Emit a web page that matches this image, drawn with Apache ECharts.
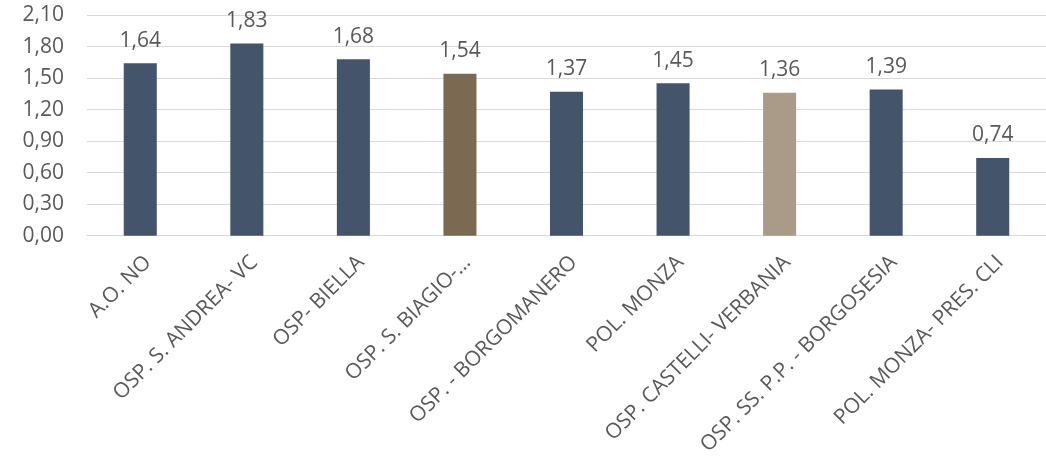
<!DOCTYPE html>
<html><head><meta charset="utf-8">
<script src="https://cdn.jsdelivr.net/npm/echarts@6/dist/echarts.min.js"></script>
<style>html,body{margin:0;padding:0;background:#fff}#c{width:1046px;height:458px}</style>
</head><body><div id="c"></div>
<script>
const categories = ["A.O. NO","OSP. S. ANDREA- VC","OSP- BIELLA","OSP. S. BIAGIO-…","OSP. - BORGOMANERO","POL. MONZA","OSP. CASTELLI- VERBANIA","OSP. SS. P.P. - BORGOSESIA","POL. MONZA- PRES. CLI"];
const values = [1.64,1.83,1.68,1.54,1.37,1.45,1.36,1.39,0.74];
const barColors = ["#44546A","#44546A","#44546A","#7A6A52","#44546A","#44546A","#A99B87","#44546A","#44546A"];
const fmt = v => v.toFixed(2).replace('.', ',');
const chart = echarts.init(document.getElementById('c'));
chart.setOption({
  animation:false,
  textStyle:{fontFamily:'Open Sans'},
  grid:{left:87,right:0,top:15,bottom:221,containLabel:false},
  xAxis:{type:'category',data:categories,
    axisLine:{lineStyle:{color:'#D9D9D9',width:1}},axisTick:{show:false},
    axisLabel:{rotate:45,color:'#595959',fontSize:21,interval:0,margin:16,verticalAlign:'top',fontFamily:'Open Sans'}},
  yAxis:{type:'value',min:0,max:2.1,interval:0.3,
    axisLabel:{formatter:fmt,color:'#595959',fontSize:21,margin:23,fontFamily:'Open Sans'},
    splitLine:{lineStyle:{color:'#D9D9D9',width:1}},axisLine:{show:false},axisTick:{show:false}},
  series:[{type:'bar',barWidth:'31%',
    data:values.map((v,i)=>({value:v,itemStyle:{color:barColors[i]}})),
    label:{show:true,position:'top',distance:12,color:'#595959',fontSize:21,formatter:p=>fmt(p.value),fontFamily:'Open Sans'}}]
});
</script></body></html>
